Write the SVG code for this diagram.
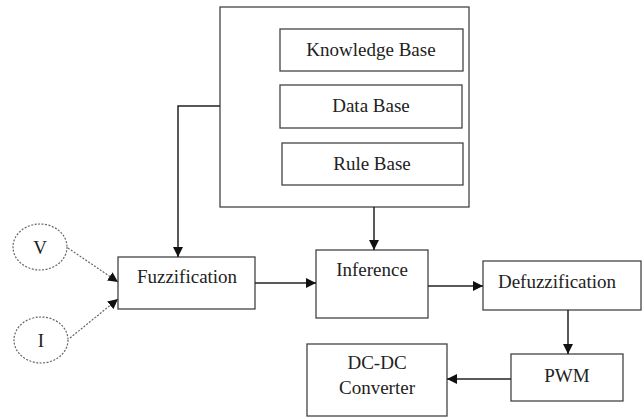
<svg xmlns="http://www.w3.org/2000/svg" width="644" height="419" viewBox="0 0 644 419">
<style>
.box{fill:#fff;stroke:#444;stroke-width:1.3}
.ell{fill:#fff;stroke:#666;stroke-width:1.2;stroke-dasharray:2 1.5}
.t{font-family:"Liberation Serif","Times New Roman",serif;font-size:19px;fill:#222;text-anchor:middle}
.c{fill:none;stroke:#222;stroke-width:1.5}
.d{fill:none;stroke:#666;stroke-width:1.2;stroke-dasharray:2 1.5}
</style>
<defs>
<marker id="ah" viewBox="0 0 10 10" refX="10" refY="5" markerWidth="10" markerHeight="10" markerUnits="userSpaceOnUse" orient="auto">
<path d="M0,0 L10,5 L0,10 Z" fill="#111"/>
</marker>
</defs>
<rect width="644" height="419" fill="#fff"/>
<g id="kb-container"><rect class="box" x="220" y="7" width="249" height="200"/></g>
<g id="knowledge-base"><rect class="box" x="280" y="29" width="183" height="42"/><text class="t" x="371" y="56">Knowledge Base</text></g>
<g id="data-base"><rect class="box" x="280" y="85" width="182" height="43"/><text class="t" x="371" y="112">Data Base</text></g>
<g id="rule-base"><rect class="box" x="282" y="143" width="181" height="42"/><text class="t" x="372" y="170">Rule Base</text></g>
<g id="v"><ellipse class="ell" cx="40" cy="247" rx="27" ry="23"/><text class="t" x="40" y="254">V</text></g>
<g id="i"><ellipse class="ell" cx="41" cy="340" rx="27" ry="23"/><text class="t" x="41" y="347">I</text></g>
<g id="fuzzification"><rect class="box" x="118" y="257" width="137" height="52"/><text class="t" x="187" y="283">Fuzzification</text></g>
<g id="inference"><rect class="box" x="316" y="250" width="112" height="68"/><text class="t" x="372" y="276">Inference</text></g>
<g id="defuzzification"><rect class="box" x="483" y="261" width="158" height="49"/><text class="t" x="557" y="288">Defuzzification</text></g>
<g id="pwm"><rect class="box" x="511" y="354" width="112" height="47"/><text class="t" x="567" y="382">PWM</text></g>
<g id="dcdc"><rect class="box" x="307" y="344" width="140" height="72"/><text class="t" x="377" y="369">DC-DC</text><text class="t" x="377" y="394">Converter</text></g>
<g id="connectors">
<path class="c" d="M220,106 H178 V257" marker-end="url(#ah)"/>
<path class="c" d="M374,207 V250" marker-end="url(#ah)"/>
<path class="c" d="M255,283 H316" marker-end="url(#ah)"/>
<path class="c" d="M428,286 H483" marker-end="url(#ah)"/>
<path class="c" d="M568,310 V354" marker-end="url(#ah)"/>
<path class="c" d="M511,379 H447" marker-end="url(#ah)"/>
<path class="d" d="M68,248 L118,282" marker-end="url(#ah)"/>
<path class="d" d="M70,338 L118,299" marker-end="url(#ah)"/>
</g>
</svg>
